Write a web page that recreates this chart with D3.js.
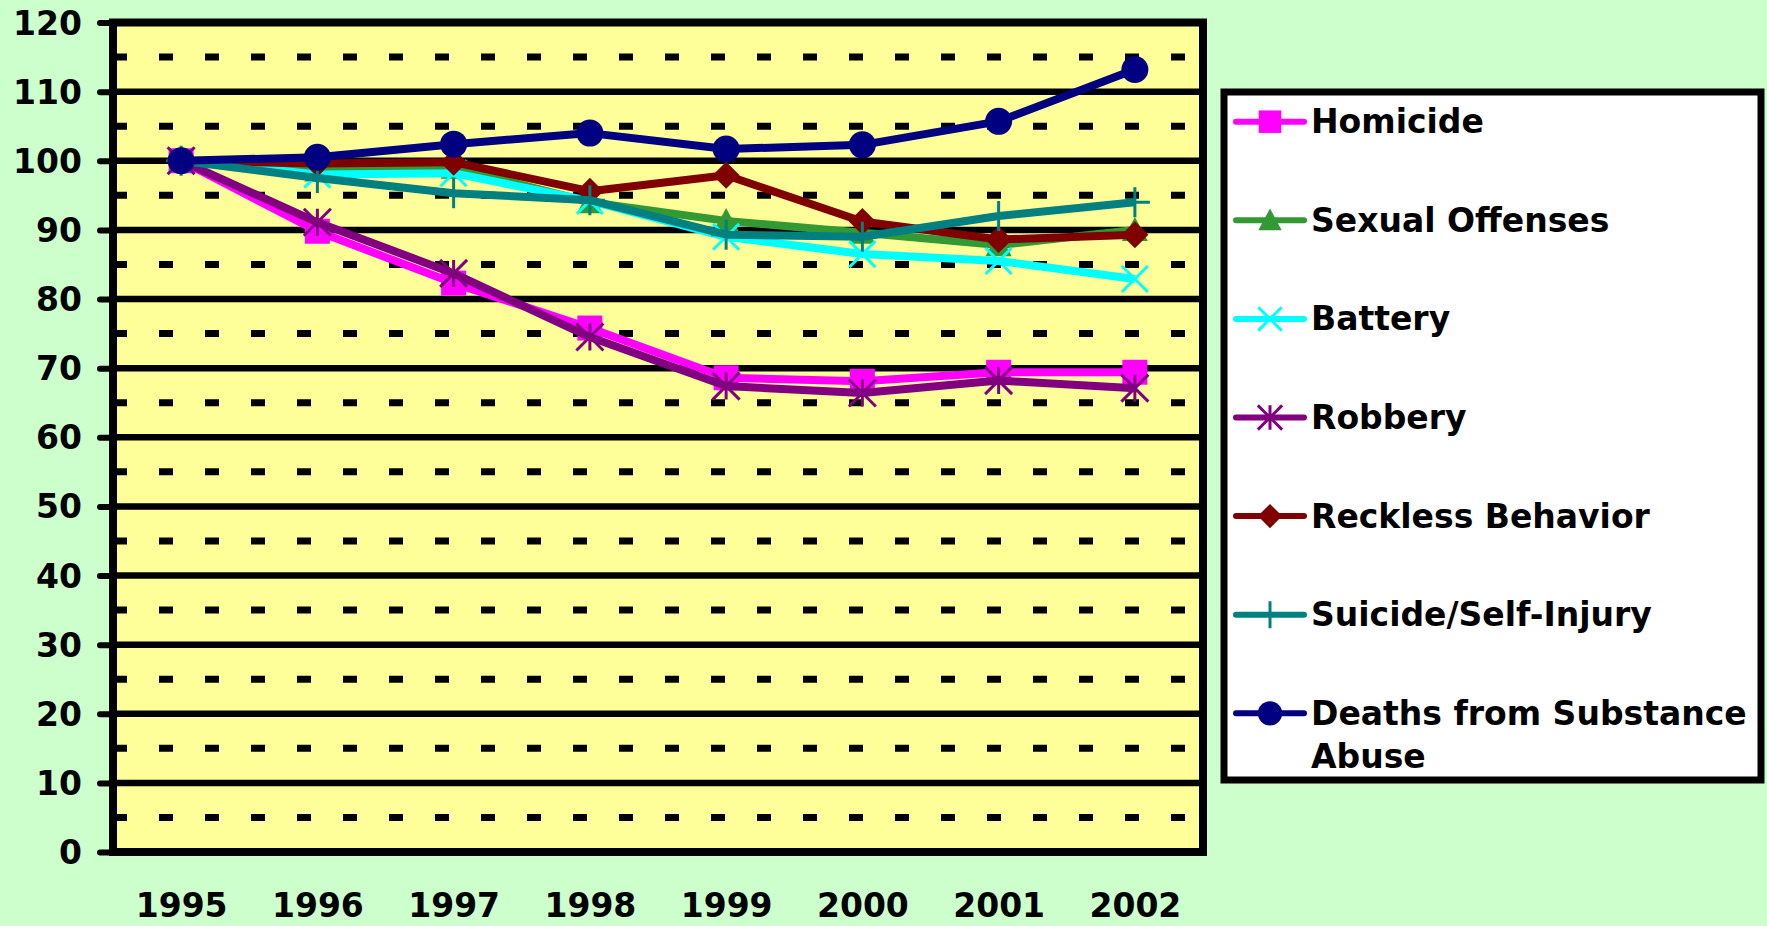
<!DOCTYPE html>
<html><head><meta charset="utf-8">
<script src="https://cdn.jsdelivr.net/npm/d3@7/dist/d3.min.js"></script>
<style>
html,body{margin:0;padding:0;background:#CCFFCC;}
svg{display:block;}
text{font-family:"DejaVu Sans",Verdana,sans-serif;font-weight:bold;fill:#000;}
</style>
</head><body>
<svg id="chart" width="1767" height="926"></svg>
<script>
// ---- data ----
const years = ["1995","1996","1997","1998","1999","2000","2001","2002"];
const yTicks = [0,10,20,30,40,50,60,70,80,90,100,110,120];
const minorTicks = [5,15,25,35,45,55,65,75,85,95,105,115];
const seriesNames = ["Homicide","Sexual Offenses","Battery","Robbery","Reckless Behavior","Suicide/Self-Injury","Deaths from Substance Abuse"];
const homicide   = [100, 89.8, 82.3, 75.8, 68.6, 68.1, 69.4, 69.4];
const sexual     = [100, 98.6, 99.0, 94.0, 91.3, 89.6, 87.8, 90.0];
const battery    = [100, 98.0, 98.2, 94.2, 89.0, 86.5, 85.5, 82.9];
const robbery    = [100, 91.1, 83.7, 74.5, 67.4, 66.4, 68.2, 67.1];
const reckless   = [100, 99.6, 99.8, 95.6, 97.9, 91.2, 88.6, 89.3];
const suicide    = [100, 97.5, 95.3, 94.3, 89.3, 89.0, 92.0, 94.0];
const deaths     = [100, 100.5, 102.4, 104.0, 101.7, 102.3, 105.7, 113.2];

// ---- styles ----
const seriesValues = [homicide, sexual, battery, robbery, reckless, suicide, deaths];
const colors = ["#FF00FF","#339933","#00FFFF","#800080","#800000","#008080","#000080"];
const markers = ["square","triangle","x","asterisk","diamond","plus","circle"];

const svg = d3.select("#chart");
const W = 1767, H = 926;
const plot = {left:113, right:1203, top:22.5, bottom:852};

svg.append("rect").attr("width",W).attr("height",H).attr("fill","#CCFFCC");

const x = d3.scalePoint().domain(years).range([plot.left, plot.right]).padding(0.5);
const y = d3.scaleLinear().domain([0,120]).range([plot.bottom, plot.top]);

// plot background
svg.append("rect").attr("x",plot.left).attr("y",plot.top)
  .attr("width",plot.right-plot.left).attr("height",plot.bottom-plot.top)
  .attr("fill","#FFFF99");

// minor dashed gridlines
svg.append("g").selectAll("line").data(minorTicks).join("line")
  .attr("x1",plot.left).attr("x2",plot.right)
  .attr("y1",d=>y(d)).attr("y2",d=>y(d))
  .attr("stroke","#000").attr("stroke-width",7).attr("stroke-dasharray","14,32");

// major gridlines
svg.append("g").selectAll("line").data(yTicks.filter(d=>d>0&&d<120)).join("line")
  .attr("x1",plot.left).attr("x2",plot.right)
  .attr("y1",d=>y(d)).attr("y2",d=>y(d))
  .attr("stroke","#000").attr("stroke-width",6.5);

// border
svg.append("rect").attr("x",plot.left).attr("y",plot.top)
  .attr("width",plot.right-plot.left).attr("height",plot.bottom-plot.top)
  .attr("fill","none").attr("stroke","#000").attr("stroke-width",8);

// y axis
const yAxis = svg.append("g").attr("transform",`translate(${plot.left},0)`)
  .call(d3.axisLeft(y).tickValues(yTicks).tickSize(13).tickPadding(18));
yAxis.select(".domain").remove();
yAxis.selectAll(".tick line").attr("stroke","#000").attr("stroke-width",6).attr("stroke-linecap","round");
yAxis.selectAll(".tick text").attr("font-size",33).attr("font-family","DejaVu Sans").attr("font-weight","bold")
  .attr("dy",null).attr("dominant-baseline","central");

// x axis
const xAxis = svg.append("g").attr("transform",`translate(0,${plot.bottom})`)
  .call(d3.axisBottom(x).tickSize(0).tickPadding(0));
xAxis.select(".domain").remove();
xAxis.selectAll(".tick text").attr("font-size",33).attr("font-family","DejaVu Sans").attr("font-weight","bold")
  .attr("dy",null).attr("y",53).attr("dominant-baseline","central");

// marker path generator
function markerPath(type, s){
  const h = s/2;
  switch(type){
    case "square": return `M${-h},${-h}H${h}V${h}H${-h}Z`;
    case "triangle": return `M0,${-h}L${h},${h*0.85}L${-h},${h*0.85}Z`;
    case "diamond": return `M0,${-h}L${h},0L0,${h}L${-h},0Z`;
    case "circle": return d3.symbol(d3.symbolCircle, Math.PI*h*h)();
    case "x": return `M${-h},${-h}L${h},${h}M${h},${-h}L${-h},${h}`;
    case "asterisk": return `M${-h},${-h}L${h},${h}M${h},${-h}L${-h},${h}M0,${-h}V${h}`;
    case "plus": return `M0,${-h}V${h}M${-h},0H${h}`;
  }
}
const filled = t => ["square","triangle","diamond","circle"].includes(t);
const markerSize = {square:25, triangle:26, diamond:27, circle:27, x:26, asterisk:27, plus:30};

const line = d3.line().x((d,i)=>x(years[i])).y(d=>y(d));

seriesValues.forEach((vals, si) => {
  const g = svg.append("g");
  g.append("path").datum(vals).attr("d",line)
    .attr("fill","none").attr("stroke",colors[si]).attr("stroke-width",8).attr("stroke-linejoin","round");
  g.selectAll("path.m").data(vals).join("path").attr("class","m")
    .attr("transform",(d,i)=>`translate(${x(years[i])},${y(d)})`)
    .attr("d",markerPath(markers[si], markerSize[markers[si]]))
    .attr("fill",filled(markers[si])?colors[si]:"none")
    .attr("stroke",colors[si]).attr("stroke-width",filled(markers[si])?0:3);
});

// legend
const leg = {left:1224, top:92, right:1761, bottom:780};
svg.append("rect").attr("x",leg.left).attr("y",leg.top)
  .attr("width",leg.right-leg.left).attr("height",leg.bottom-leg.top)
  .attr("fill","#fff").attr("stroke","#000").attr("stroke-width",7);
const legStep = 98.6, legY0 = 121.7;
seriesNames.forEach((name, si) => {
  const cy = legY0 + si*legStep;
  const g = svg.append("g");
  g.append("line").attr("x1",1236).attr("x2",1304).attr("y1",cy).attr("y2",cy)
    .attr("stroke",colors[si]).attr("stroke-width",6).attr("stroke-linecap","round");
  g.append("path").attr("transform",`translate(1270,${cy})`)
    .attr("d",markerPath(markers[si], markerSize[markers[si]]*0.9))
    .attr("fill",filled(markers[si])?colors[si]:"none")
    .attr("stroke",colors[si]).attr("stroke-width",filled(markers[si])?0:3);
  const t = g.append("text").attr("x",1311).attr("y",cy).attr("font-size",33)
    .attr("dominant-baseline","central");
  if (name === "Deaths from Substance Abuse") {
    t.append("tspan").attr("x",1311).attr("y",cy).text("Deaths from Substance");
    t.append("tspan").attr("x",1311).attr("y",cy+43).text("Abuse");
  } else {
    t.text(name);
  }
});
</script>
</body></html>
